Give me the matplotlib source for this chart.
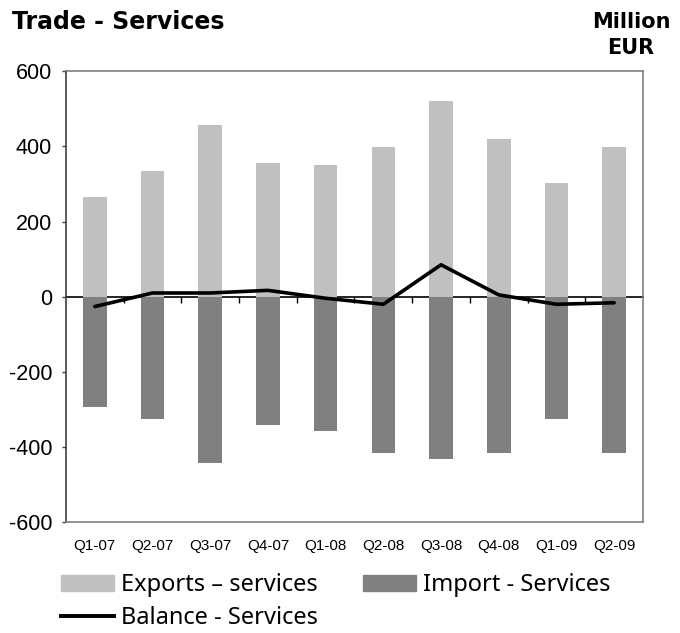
import numpy as np
import matplotlib.pyplot as plt
from matplotlib.lines import Line2D
from matplotlib.patches import Patch

plt.rcParams['font.family'] = 'Liberation Sans'
plt.rcParams['axes.unicode_minus'] = False

# Quarterly services trade, million EUR
quarters = ['Q1-07', 'Q2-07', 'Q3-07', 'Q4-07', 'Q1-08',
            'Q2-08', 'Q3-08', 'Q4-08', 'Q1-09', 'Q2-09']
exports = [266, 335, 457, 356, 351, 399, 521, 420, 303, 399]
imports = [-294, -325, -443, -341, -357, -416, -432, -416, -325, -416]
balance = [-26, 10, 10, 17, -4, -20, 85, 5, -20, -16]

x = np.arange(len(quarters))

fig = plt.figure(figsize=(6.8, 6.33), dpi=100)
ax = fig.add_axes([0.097, 0.1746, 0.8486, 0.7132])

ax.bar(x, exports, width=0.41, color='#C0C0C0', zorder=2)
ax.bar(x, imports, width=0.41, color='#808080', zorder=2)
ax.plot(x, balance, color='black', lw=2.6, solid_joinstyle='round',
        solid_capstyle='round', zorder=4)

ax.set_xlim(-0.5, len(quarters) - 0.5)
ax.set_ylim(-600, 600)
ax.set_yticks([-600, -400, -200, 0, 200, 400, 600])
ax.set_xticks(x)
ax.set_xticklabels(quarters)
ax.tick_params(axis='x', length=0, pad=12, labelsize=11)
ax.tick_params(axis='y', length=3, width=1, color='#404040', labelsize=15.5, pad=7)

for side in ['top', 'right', 'bottom']:
    ax.spines[side].set_color('#808080')
    ax.spines[side].set_linewidth(1.2)
ax.spines['left'].set_color('#404040')
ax.spines['left'].set_linewidth(1.2)

# category axis crossing at zero, tick marks between categories pointing down
zero_axis = ax.secondary_xaxis(0.5)
zero_axis.set_xticks(x[:-1] + 0.5, labels=[])
zero_axis.tick_params(length=4, width=1, color='black', direction='in',
                      labelbottom=False, labeltop=False)
for sp in zero_axis.spines.values():
    sp.set_color('black')
    sp.set_linewidth(1.2)
    sp.set_zorder(5)

fig.text(0.018, 0.965, 'Trade - Services', fontsize=17, fontweight='bold',
         family='DejaVu Sans', ha='left', va='center')
fig.text(0.928, 0.945, 'Million\nEUR', fontsize=15, fontweight='bold',
         family='DejaVu Sans', ha='center', va='center', linespacing=1.4)

handles = [Patch(color='#C0C0C0'), Line2D([], [], color='black', lw=2.8),
           Patch(color='#808080')]
labels = ['Exports \u2013 services', 'Balance - Services', 'Import - Services']
fig.legend(handles, labels, ncol=2, loc='upper left',
           bbox_to_anchor=(0.089, 0.094), frameon=False,
           prop={'family': 'Noto Sans', 'size': 17},
           handlelength=2.25, handleheight=0.7, handletextpad=0.3,
           columnspacing=1.9, labelspacing=0.38, borderaxespad=0, borderpad=0)

fig.savefig('out.png', dpi=100)
